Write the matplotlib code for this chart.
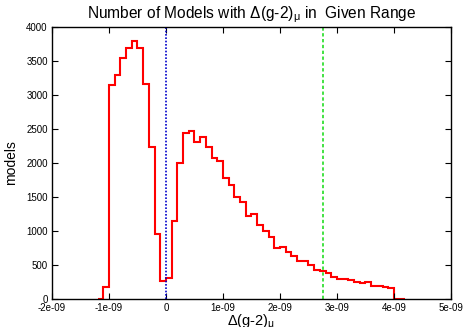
import matplotlib
matplotlib.use("Agg")
import matplotlib.pyplot as plt
import numpy as np

plt.rcParams['font.family'] = ['Liberation Sans', 'DejaVu Sans']
plt.rcParams['mathtext.fontset'] = 'custom'
plt.rcParams['mathtext.rm'] = 'Liberation Sans'
plt.rcParams['mathtext.it'] = 'Liberation Sans'

# bin edges (units of 1e-9) and model counts per bin
edges = np.round(np.arange(-1.2, 4.25, 0.1), 1) * 1e-9
counts = [0, 180, 3150, 3290, 3550, 3690, 3800, 3690, 3160, 2240,
          960, 265, 310, 1140, 2005, 2436, 2475, 2304, 2387, 2230,
          2069, 2029, 1775, 1676, 1505, 1422, 1225, 1250, 1088, 1005,
          916, 745, 770, 686, 635, 564, 564, 505, 426, 412,
          377, 328, 300, 300, 275, 255, 230, 255, 195, 185,
          172, 162, 0, 0]
sm_line = 0.0
exp_line = 2.75e-9
xticks = [-2e-9, -1e-9, 0, 1e-9, 2e-9, 3e-9, 4e-9, 5e-9]
xticklabels = ['-2e-09', '-1e-09', '0', '1e-09', '2e-09', '3e-09', '4e-09', '5e-09']
yticks = [0, 500, 1000, 1500, 2000, 2500, 3000, 3500, 4000]

fig = plt.figure(figsize=(4.67, 3.27), dpi=100)
ax = fig.add_axes([0.1113, 0.0856, 0.8544, 0.8318])

ax.stairs(counts, edges, color='red', linewidth=1.5)
ax.axvline(sm_line, color='#0000cc', linestyle=(0, (1, 1)), linewidth=1.2)
ax.axvline(exp_line, color='#22dd22', linestyle=(0, (2, 1.5)), linewidth=1.2)

ax.set_xlim(-2e-9, 5e-9)
ax.set_ylim(0, 4000)
ax.set_xticks(xticks)
ax.set_xticklabels(xticklabels)
ax.set_yticks(yticks)
ax.tick_params(direction='in', length=4, width=0.8, labelsize=7,
               top=True, right=True, pad=3)
for s in ax.spines.values():
    s.set_linewidth(1.0)

ax.set_title('Number of Models with \u0394(g-2)$_{\\mathrm{\u03bc}}$ in  Given Range',
             fontsize=11.2, pad=6)
ax.set_xlabel('\u0394(g-2)$_{\\mathrm{\u03bc}}$', fontsize=10.5, labelpad=0)
ax.set_ylabel('models', fontsize=10, labelpad=6)

fig.savefig('out.png', dpi=100)
